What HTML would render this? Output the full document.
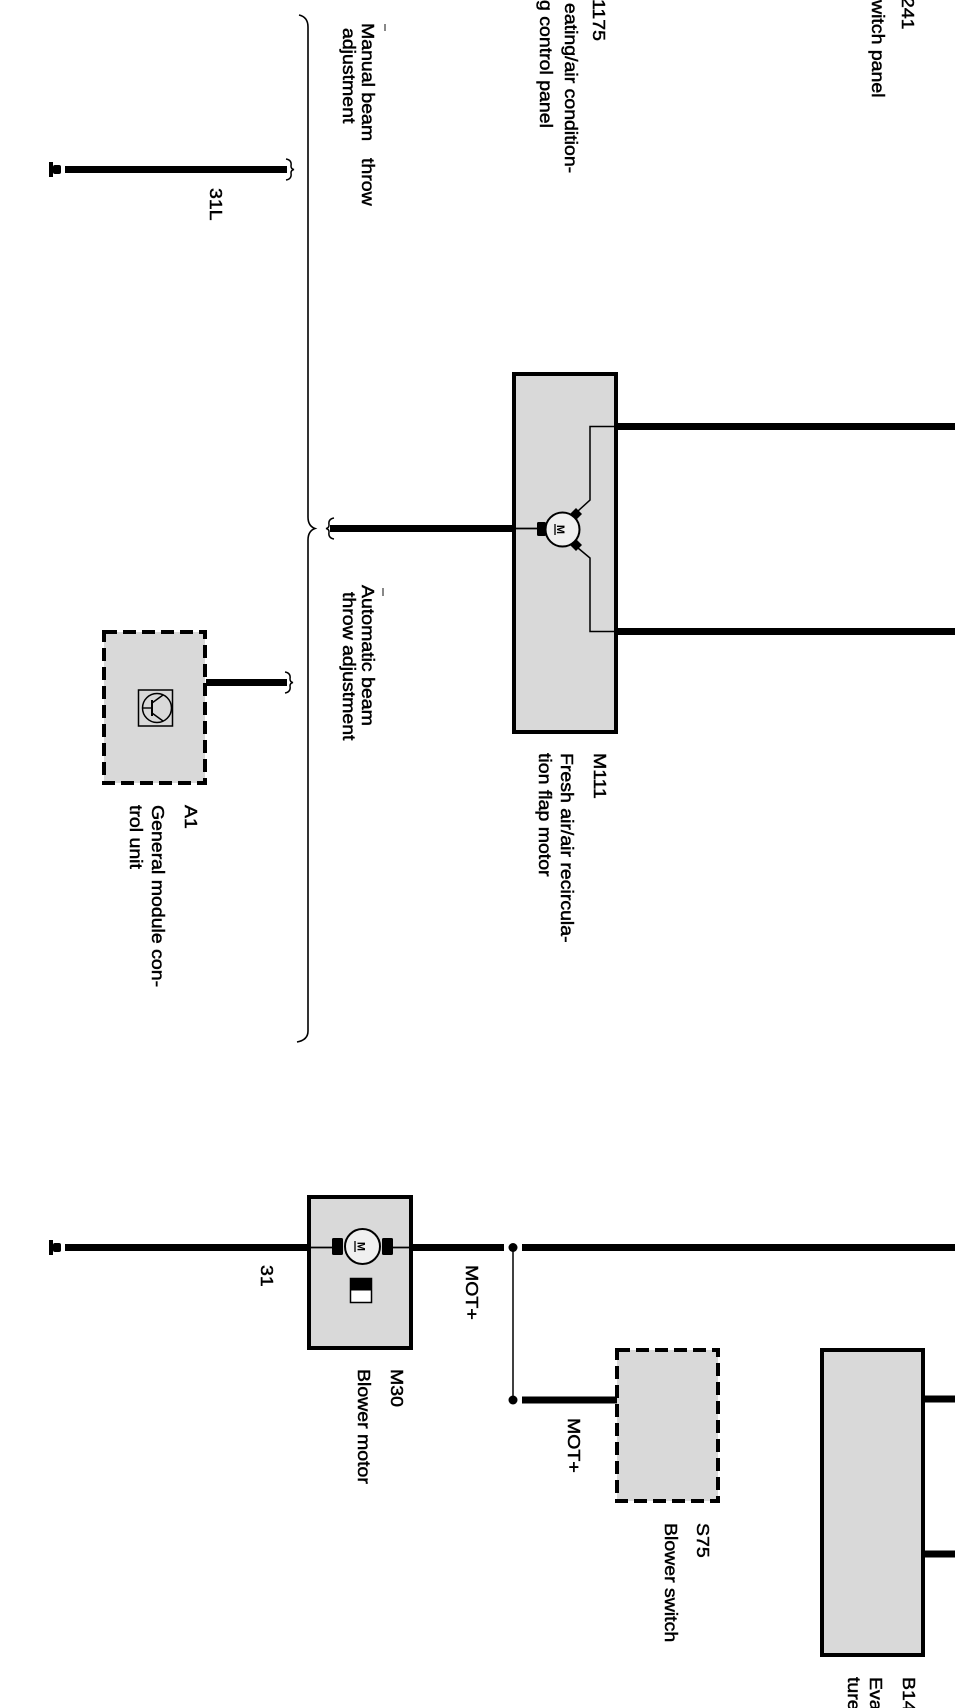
<!DOCTYPE html>
<html>
<head>
<meta charset="utf-8">
<style>
html,body{margin:0;padding:0;background:#fff;}
svg{display:block;}
text.l{font-family:"Liberation Sans",Arial,sans-serif;font-size:19.5px;fill:#000;stroke:#000;stroke-width:0.55px;}
text.m{font-family:"Liberation Sans",Arial,sans-serif;font-size:11px;font-weight:bold;fill:#000;}
</style>
</head>
<body>
<svg width="955" height="1708" viewBox="0 0 955 1708" xmlns="http://www.w3.org/2000/svg">
  <rect x="0" y="0" width="955" height="1708" fill="#fff"/>

  <!-- ===== Top labels ===== -->
  <text class="l" transform="translate(902,-3) rotate(90) scale(1,0.9)">241</text>
  <text class="l" transform="translate(872,0) rotate(90) scale(1,0.9)">witch panel</text>

  <text class="l" transform="translate(593,-1) rotate(90) scale(1,0.9)">1175</text>
  <text class="l" transform="translate(565,3) rotate(90) scale(1,0.9)">eating/air condition-</text>
  <text class="l" transform="translate(540,0) rotate(90) scale(1,0.9)">g control panel</text>

  <!-- Manual beam throw adjustment -->
  <line x1="385" y1="24" x2="385" y2="31" stroke="#888" stroke-width="2"/>
  <text class="l" transform="translate(362,23) rotate(90) scale(1,0.9)">Manual beam</text>
  <text class="l" transform="translate(362,158) rotate(90) scale(1,0.9)">throw</text>
  <text class="l" transform="translate(343,28) rotate(90) scale(1,0.9)">adjustment</text>

  <!-- 31L wire -->
  <rect x="49" y="162" width="4" height="15" fill="#000"/>
  <rect x="53" y="165" width="8" height="9" rx="2" fill="#000"/>
  <rect x="65" y="166" width="222" height="7" fill="#000"/>
  <path d="M286,159 Q292,160 291,166 Q291,169 294,169.5 Q291,170 291,173 Q292,179 286,180" fill="none" stroke="#000" stroke-width="1.5"/>
  <text class="l" transform="translate(210,188) rotate(90) scale(1,0.9)">31L</text>

  <!-- Brace -->
  <path d="M299,15 Q308,17 308,27 L308,517 Q308,526 315,528.5 Q308,531 308,540 L308,1031 Q308,1040 297,1042" fill="none" stroke="#000" stroke-width="1.6"/>

  <!-- Automatic beam throw adjustment -->
  <line x1="383" y1="588" x2="383" y2="596" stroke="#888" stroke-width="2"/>
  <text class="l" transform="translate(362,585) rotate(90) scale(1,0.9)">Automatic beam</text>
  <text class="l" transform="translate(343,592) rotate(90) scale(1,0.9)">throw adjustment</text>

  <!-- ===== M111 ===== -->
  <path d="M334,518 Q328,519 329,525 Q329,528 326,528.5 Q329,529 329,532 Q328,538 334,539" fill="none" stroke="#000" stroke-width="1.5"/>
  <rect x="330" y="525" width="184" height="7" fill="#000"/>
  <rect x="514" y="374" width="102" height="358" fill="#d9d9d9" stroke="#000" stroke-width="4"/>
  <rect x="616" y="423" width="339" height="7" fill="#000"/>
  <rect x="616" y="628" width="339" height="7" fill="#000"/>
  <line x1="516" y1="528.5" x2="538" y2="528.5" stroke="#000" stroke-width="1.8"/>
  <polyline points="578,511 590,500 590,426.5 614,426.5" fill="none" stroke="#000" stroke-width="1.5"/>
  <polyline points="578,548 590,558 590,631.5 614,631.5" fill="none" stroke="#000" stroke-width="1.5"/>
  <rect x="537" y="522" width="9" height="14" rx="1.5" fill="#000"/>
  <circle cx="562.5" cy="529.5" r="17" fill="#f0f0f0" stroke="#000" stroke-width="2"/>
  <polygon points="576,508 582,514 576,520 570,514" fill="#000"/>
  <polygon points="576,539 582,545 576,551 570,545" fill="#000"/>
  <text class="m" text-anchor="middle" transform="translate(561,529.5) rotate(90)" y="4">M</text>
  <line x1="555" y1="524" x2="555" y2="535" stroke="#000" stroke-width="1.3"/>

  <text class="l" transform="translate(594,753) rotate(90) scale(1,0.9)">M111</text>
  <text class="l" transform="translate(561,753) rotate(90) scale(1,0.9)">Fresh air/air recircula-</text>
  <text class="l" transform="translate(539,753) rotate(90) scale(1,0.9)">tion flap motor</text>

  <!-- ===== A1 ===== -->
  <rect x="104" y="632" width="101" height="151" fill="#d9d9d9" stroke="#000" stroke-width="4" stroke-dasharray="13 6"/>
  <rect x="206" y="679" width="81" height="7" fill="#000"/>
  <path d="M285,672 Q291,673 290,679 Q290,682 293,682.5 Q290,683 290,686 Q291,692 285,693" fill="none" stroke="#000" stroke-width="1.5"/>
  <rect x="138.5" y="690" width="34" height="36" fill="none" stroke="#000" stroke-width="1.5"/>
  <circle cx="157" cy="708" r="14.5" fill="none" stroke="#000" stroke-width="1.5"/>
  <line x1="143" y1="708" x2="152" y2="708" stroke="#000" stroke-width="1.4"/>
  <line x1="152" y1="700" x2="152" y2="716" stroke="#000" stroke-width="2"/>
  <line x1="152" y1="703" x2="163" y2="695" stroke="#000" stroke-width="1.4"/>
  <line x1="152" y1="713" x2="163" y2="721" stroke="#000" stroke-width="1.4"/>

  <text class="l" transform="translate(185,805) rotate(90) scale(1,0.9)">A1</text>
  <text class="l" transform="translate(152,805) rotate(90) scale(1,0.9)">General module con-</text>
  <text class="l" transform="translate(130,805) rotate(90) scale(1,0.9)">trol unit</text>

  <!-- ===== Bottom section: 31 / M30 ===== -->
  <rect x="49" y="1240" width="4" height="15" fill="#000"/>
  <rect x="53" y="1243" width="8" height="9" rx="2" fill="#000"/>
  <rect x="65" y="1244" width="243" height="7" fill="#000"/>
  <text class="l" transform="translate(261,1265) rotate(90) scale(1,0.9)">31</text>

  <rect x="309" y="1197" width="102" height="151" fill="#d9d9d9" stroke="#000" stroke-width="4"/>
  <line x1="311" y1="1247.5" x2="333" y2="1247.5" stroke="#000" stroke-width="1.8"/>
  <line x1="392" y1="1247.5" x2="411" y2="1247.5" stroke="#000" stroke-width="1.8"/>
  <rect x="332" y="1238" width="11" height="17" rx="1.5" fill="#000"/>
  <rect x="382" y="1238" width="11" height="17" rx="1.5" fill="#000"/>
  <circle cx="362.5" cy="1246.5" r="17.5" fill="#f0f0f0" stroke="#000" stroke-width="2"/>
  <text class="m" text-anchor="middle" transform="translate(361.5,1246.5) rotate(90)" y="4">M</text>
  <line x1="355" y1="1241" x2="355" y2="1252" stroke="#000" stroke-width="1.3"/>
  <rect x="350.5" y="1278.5" width="21" height="24" fill="#fff" stroke="#000" stroke-width="1.5"/>
  <rect x="350.5" y="1278.5" width="21" height="12" fill="#000"/>

  <text class="l" transform="translate(391,1369) rotate(90) scale(1,0.9)">M30</text>
  <text class="l" transform="translate(358,1369) rotate(90) scale(1,0.9)">Blower motor</text>

  <rect x="412" y="1244" width="92" height="7" fill="#000"/>
  <circle cx="513" cy="1247.5" r="4.5" fill="#000"/>
  <rect x="522" y="1244" width="433" height="7" fill="#000"/>
  <text class="l" transform="translate(466,1265) rotate(90) scale(1,0.9)">MOT+</text>

  <line x1="513" y1="1248" x2="513" y2="1400" stroke="#000" stroke-width="1.5"/>
  <circle cx="513" cy="1400" r="4.5" fill="#000"/>
  <rect x="522" y="1396.5" width="95" height="7" fill="#000"/>
  <text class="l" transform="translate(568,1418) rotate(90) scale(1,0.9)">MOT+</text>

  <!-- S75 -->
  <rect x="617" y="1350" width="101" height="151" fill="#d9d9d9" stroke="#000" stroke-width="4" stroke-dasharray="13 6"/>
  <text class="l" transform="translate(697,1523) rotate(90) scale(1,0.9)">S75</text>
  <text class="l" transform="translate(665,1523) rotate(90) scale(1,0.9)">Blower switch</text>

  <!-- B14 -->
  <rect x="822" y="1350" width="101" height="305" fill="#d9d9d9" stroke="#000" stroke-width="4"/>
  <rect x="923" y="1395.5" width="32" height="7" fill="#000"/>
  <rect x="923" y="1550.5" width="32" height="7" fill="#000"/>
  <text class="l" transform="translate(903,1677) rotate(90) scale(1,0.9)">B14</text>
  <text class="l" transform="translate(870,1677) rotate(90) scale(1,0.9)">Eva</text>
  <text class="l" transform="translate(848,1677) rotate(90) scale(1,0.9)">ture</text>
</svg>
</body>
</html>
